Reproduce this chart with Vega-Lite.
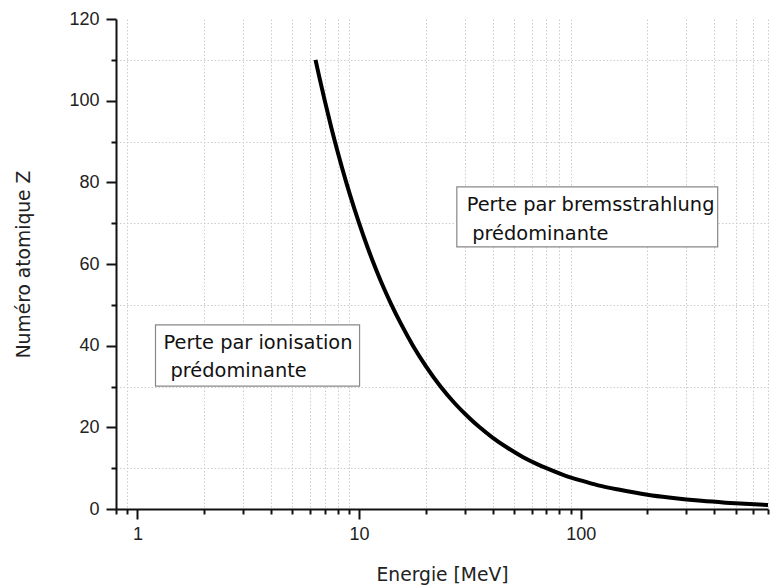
{
  "$schema": "https://vega.github.io/schema/vega-lite/v6.json",
  "autosize": "none",
  "width": 652,
  "height": 490,
  "padding": {"left": 116, "top": 19, "right": 7, "bottom": 79},
  "background": "white",
  "config": {
    "view": {"stroke": null},
    "axis": {
      "domainColor": "#111",
      "domainWidth": 2,
      "tickColor": "#111",
      "tickWidth": 2,
      "gridColor": "#cccccc",
      "gridDash": [1.5, 2],
      "gridWidth": 1,
      "labelFont": "Liberation Sans",
      "labelFontSize": 18,
      "labelColor": "#222",
      "titleFont": "DejaVu Sans",
      "titleFontSize": 18.7,
      "titleFontWeight": "normal",
      "titleColor": "#222",
      "labelOverlap": false
    }
  },
  "datasets": {
    "curve": [
      {"E": 6.36, "Z": 110}, {"E": 6.6, "Z": 106}, {"E": 7, "Z": 100}, {"E": 7.5, "Z": 93.3},
      {"E": 8, "Z": 87.5}, {"E": 8.75, "Z": 80}, {"E": 9.5, "Z": 73.7}, {"E": 10, "Z": 70},
      {"E": 11, "Z": 63.6}, {"E": 12, "Z": 58.3}, {"E": 13, "Z": 53.8}, {"E": 14, "Z": 50},
      {"E": 15.5, "Z": 45.2}, {"E": 17.5, "Z": 40}, {"E": 20, "Z": 35}, {"E": 23.3, "Z": 30},
      {"E": 27, "Z": 25.9}, {"E": 31, "Z": 22.6}, {"E": 35, "Z": 20}, {"E": 40, "Z": 17.5},
      {"E": 46.7, "Z": 15}, {"E": 55, "Z": 12.7}, {"E": 63.6, "Z": 11}, {"E": 70, "Z": 10},
      {"E": 85, "Z": 8.2}, {"E": 100, "Z": 7}, {"E": 120, "Z": 5.8}, {"E": 150, "Z": 4.7},
      {"E": 200, "Z": 3.5}, {"E": 250, "Z": 2.8}, {"E": 300, "Z": 2.33}, {"E": 350, "Z": 2},
      {"E": 450, "Z": 1.56}, {"E": 550, "Z": 1.27}, {"E": 700, "Z": 1}
    ],
    "boxes": [
      {"E1": 1.206, "E2": 10.05, "Z1": 30.1, "Z2": 45.1},
      {"E1": 27.6, "E2": 415, "Z1": 64.2, "Z2": 78.9}
    ],
    "labels": [
      {"E": 1.311, "Z": 39.1, "text": "Perte par ionisation"},
      {"E": 1.409, "Z": 32.35, "text": "prédominante"},
      {"E": 30.57, "Z": 73.1, "text": "Perte par bremsstrahlung"},
      {"E": 32.4, "Z": 65.9, "text": "prédominante"}
    ]
  },
  "layer": [
    {
      "data": {"name": "curve"},
      "mark": {"type": "line", "color": "#000", "strokeWidth": 4, "interpolate": "monotone", "clip": true},
      "encoding": {
        "x": {
          "field": "E", "type": "quantitative",
          "scale": {"type": "log", "domain": [0.8, 700], "nice": false},
          "axis": {
            "title": "Energie [MeV]",
            "values": [0.8, 0.9, 1, 2, 3, 4, 5, 6, 7, 8, 9, 10, 20, 30, 40, 50, 60, 70, 80, 90, 100, 200, 300, 400, 500, 600, 700],
            "labelExpr": "indexof([1, 10, 100], datum.value) >= 0 ? format(datum.value, 'd') : ''",
            "tickSize": {"condition": {"test": "indexof([1, 10, 100], datum.value) >= 0", "value": 10}, "value": 5},
            "gridOpacity": {"condition": {"test": "indexof([0.8, 1, 10, 100], datum.value) >= 0", "value": 0}, "value": 1},
            "grid": true,
            "labelPadding": 6,
            "titlePadding": 22
          }
        },
        "y": {
          "field": "Z", "type": "quantitative",
          "scale": {"domain": [0, 120], "nice": false},
          "axis": {
            "title": "Numéro atomique Z",
            "values": [0, 10, 20, 30, 40, 50, 60, 70, 80, 90, 100, 110, 120],
            "labelExpr": "datum.value % 20 == 0 ? format(datum.value, 'd') : ''",
            "tickSize": {"condition": {"test": "datum.value % 20 == 0", "value": 10}, "value": 5},
            "gridOpacity": {"condition": {"test": "datum.value % 20 == 0", "value": 0}, "value": 1},
            "grid": true,
            "labelPadding": 7,
            "titlePadding": 35
          }
        }
      }
    },
    {
      "data": {"name": "boxes"},
      "mark": {"type": "rect", "fill": "white", "stroke": "#888", "strokeWidth": 1.2},
      "encoding": {
        "x": {"field": "E1", "type": "quantitative"},
        "x2": {"field": "E2"},
        "y": {"field": "Z1", "type": "quantitative"},
        "y2": {"field": "Z2"}
      }
    },
    {
      "data": {"name": "labels"},
      "mark": {"type": "text", "align": "left", "baseline": "alphabetic", "font": "DejaVu Sans", "fontSize": 19.4, "color": "#111"},
      "encoding": {
        "x": {"field": "E", "type": "quantitative"},
        "y": {"field": "Z", "type": "quantitative"},
        "text": {"field": "text", "type": "nominal"}
      }
    }
  ]
}
